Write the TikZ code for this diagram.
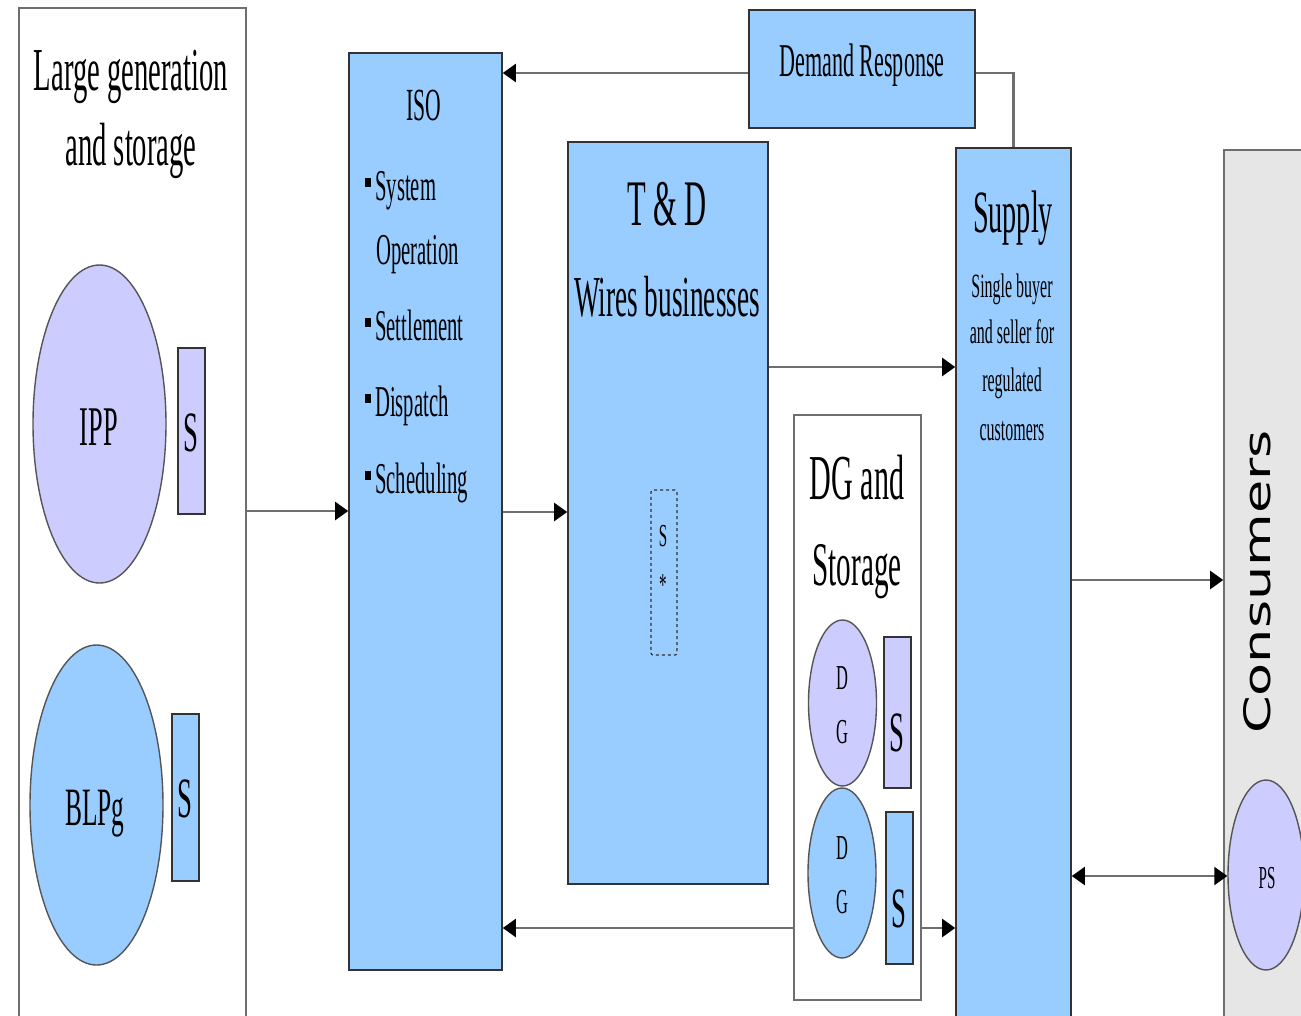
\documentclass[tikz,border=0pt]{standalone}
\usepackage{fontspec}
\setmainfont[FakeStretch=0.47]{Liberation Serif}
\newfontfamily\consfont{DejaVu Sans}
\usetikzlibrary{shapes.geometric,arrows.meta}
\definecolor{bl}{HTML}{99CCFF}
\definecolor{lav}{HTML}{CCCCFF}
\definecolor{cg}{HTML}{E6E6E6}
\definecolor{ln}{HTML}{6E6E6E}
\definecolor{bd}{HTML}{333333}
\definecolor{eb}{HTML}{555555}
\begin{document}
\begin{tikzpicture}[x=1pt,y=-1pt,
  bbox/.style={rectangle,draw=bd,line width=1.6pt,fill=bl,inner sep=0pt},
  wbox/.style={rectangle,draw=ln,line width=1.6pt,fill=white,inner sep=0pt},
  ell/.style={ellipse,draw=eb,line width=1.4pt,inner sep=0pt},
  srect/.style={rectangle,draw=bd,line width=1.2pt,inner sep=0pt},
  txt/.style={inner sep=0pt,anchor=base,font=\fontsize{#1}{#1}\selectfont},
  conn/.style={draw=ln,line width=2.2pt},
  arr/.style={conn,-{Triangle[length=13pt,width=18pt,color=black]}},
  darr/.style={conn,{Triangle[length=13pt,width=18pt,color=black]}-{Triangle[length=13pt,width=18pt,color=black]}},
  bul/.style={rectangle,fill=black,inner sep=0pt,minimum width=6pt,minimum height=9pt}
]
\useasboundingbox (0,0) rectangle (1301,1015);
\fill[white] (0,0) rectangle (1301,1015);

% Large generation and storage
\node[wbox,minimum width=227,minimum height=1012] (lg) at (132.5,514) {};
\node[txt=61] (lgt1) at (131,90) {Large generation};
\node[txt=61] (lgt2) at (131,165) {and storage};
\node[ell,fill=lav,minimum width=133,minimum height=318] (ipp) at (99.5,424) {};
\node[txt=56] (ippt) at (99,445) {IPP};
\node[srect,fill=lav,minimum width=27,minimum height=166] (ipps) at (191.5,431) {};
\node[txt=57] (ippst) at (191,451) {S};
\node[ell,fill=bl,minimum width=133,minimum height=320] (blp) at (96.5,805) {};
\node[txt=54] (blpt) at (95,825) {BLPg};
\node[srect,fill=bl,minimum width=27,minimum height=167] (blps) at (185.5,797.5) {};
\node[txt=57] (blpst) at (185,817) {S};

% ISO
\node[bbox,minimum width=153,minimum height=917] (iso) at (425.5,511.5) {};
\node[txt=46] (isot) at (424,120) {ISO};
\node[txt=44,anchor=base west] (i1) at (375,200) {System};
\node[txt=44,anchor=base west] (i2) at (376,264) {Operation};
\node[txt=44,anchor=base west] (i3) at (375,340) {Settlement};
\node[txt=44,anchor=base west] (i4) at (375,416) {Dispatch};
\node[txt=44,anchor=base west] (i5) at (375,493) {Scheduling};
\node[bul] (b1) at (368,182) {};
\node[bul] (b3) at (368,322) {};
\node[bul] (b4) at (368,398) {};
\node[bul] (b5) at (368,475) {};

% Demand Response
\node[bbox,minimum width=226,minimum height=118] (dr) at (862,69) {};
\node[txt=47] (drt) at (862,76) {Demand Response};

% T & D
\node[bbox,minimum width=200,minimum height=742] (td) at (668,513) {};
\node[txt=65] (tdt1) at (667,225) {T \& D};
\node[txt=58] (tdt2) at (667,316) {Wires businesses};
\node[rectangle,draw=bd,dashed,line width=1.2pt,rounded corners=2pt,minimum width=26,minimum height=165,inner sep=0pt] (ds) at (664,572.5) {};
\node[txt=32] (dst1) at (663,546) {S};
\node[txt=32] (dst2) at (663,595) {*};

% DG and Storage
\node[wbox,minimum width=127,minimum height=585] (dg) at (857.5,707.5) {};
\node[txt=64] (dgt1) at (857,499) {DG and};
\node[txt=62] (dgt2) at (857,585) {Storage};
\node[ell,fill=lav,minimum width=68,minimum height=166] (dg1) at (842.5,703) {};
\node[txt=35] (dg1a) at (842,689) {D};
\node[txt=35] (dg1b) at (842,743) {G};
\node[srect,fill=lav,minimum width=27,minimum height=151] (dg1s) at (897.5,712.5) {};
\node[txt=57] (dg1st) at (897,751) {S};
\node[ell,fill=bl,minimum width=68,minimum height=170] (dg2) at (842,873) {};
\node[txt=35] (dg2a) at (842,859) {D};
\node[txt=35] (dg2b) at (842,913) {G};
\node[srect,fill=bl,minimum width=27,minimum height=152] (dg2s) at (899.5,888) {};
\node[txt=57] (dg2st) at (899,927) {S};

% Supply
\node[bbox,minimum width=115,minimum height=880] (sup) at (1013.5,588) {};
\node[txt=60] (supt) at (1013,232) {Supply};
\node[txt=34] (sup1) at (1012,297) {Single buyer};
\node[txt=34] (sup2) at (1012,343) {and seller for};
\node[txt=34] (sup3) at (1012,391) {regulated};
\node[txt=34] (sup4) at (1012,440) {customers};

% Consumers
\node[rectangle,draw=ln,line width=1.6pt,fill=cg,minimum width=90,minimum height=880,inner sep=0pt] (cons) at (1269,590) {};
\node[rotate=90,inner sep=0pt] (const) at (1257,582) {\scalebox{1.04}[0.7]{\consfont\fontsize{52}{52}\selectfont Consumers}};
\node[ell,fill=lav,minimum width=76,minimum height=190] (ps) at (1266,875) {};
\node[txt=32] (pst) at (1267,888) {PS};

% connectors
\draw[arr] (lg.east |- 0,511) -- (iso.west |- 0,511);
\draw[arr] (dr.west |- 0,73) -- (iso.east |- 0,73);
\draw[conn] (dr.east |- 0,73) -| (sup.north);
\draw[arr] (iso.east |- 0,512) -- (td.west |- 0,512);
\draw[arr] (td.east |- 0,367) -- (sup.west |- 0,367);
\draw[arr] (dg.west |- 0,928) -- (iso.east |- 0,928);
\draw[arr] (dg.east |- 0,928) -- (sup.west |- 0,928);
\draw[arr] (sup.east |- 0,580) -- (cons.west |- 0,580);
\draw[darr] (sup.east |- 0,876) -- (ps.west |- 0,876);
\end{tikzpicture}
\end{document}
